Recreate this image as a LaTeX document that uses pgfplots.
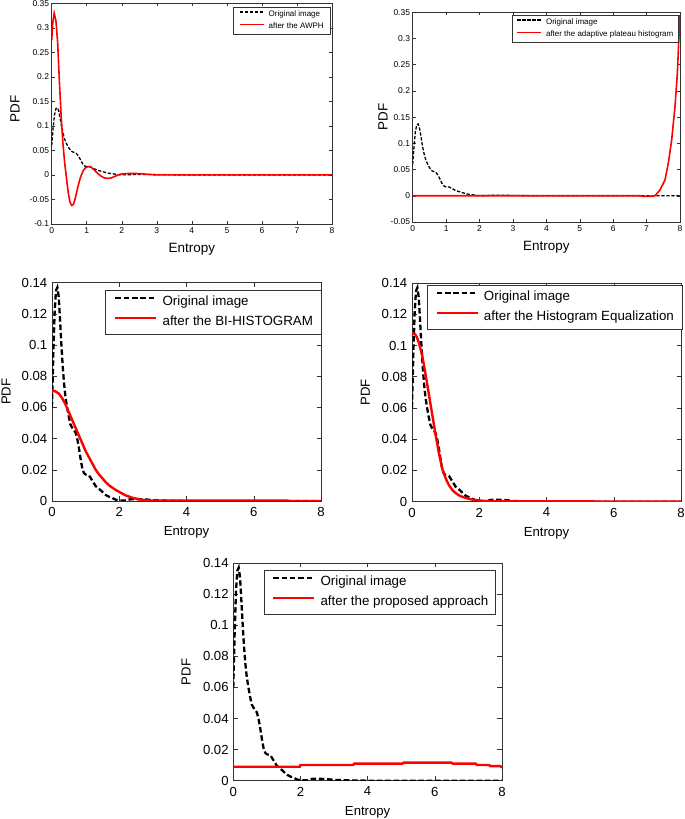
\documentclass[border=0pt]{standalone}
\usepackage{fontspec}
\setmainfont{Liberation Sans}
\usepackage{pgfplots}
\usepackage{pgfplotstable}
\pgfplotsset{compat=1.18}

\pgfplotstableread{
x y
0 0.060
0.04 0.095
0.08 0.122
0.12 0.135
0.16 0.137
0.20 0.131
0.24 0.116
0.28 0.100
0.32 0.086
0.36 0.075
0.40 0.067
0.45 0.060
0.50 0.054
0.55 0.049
0.60 0.047
0.65 0.0455
0.70 0.044
0.75 0.040
0.80 0.034
0.85 0.027
0.90 0.021
0.95 0.018
1.00 0.017
1.10 0.0165
1.20 0.013
1.30 0.0095
1.40 0.0078
1.50 0.0058
1.60 0.0038
1.70 0.0027
1.80 0.0018
1.90 0.0008
2.00 0.0003
2.20 0.0003
2.35 0.0012
2.60 0.0012
2.80 0.0010
3.00 0.0005
3.50 0.0002
4.00 0
8.00 0
}\orig

\pgfplotstableread{
x y
0 0.275
0.03 0.31
0.07 0.33
0.12 0.315
0.17 0.27
0.22 0.19
0.27 0.12
0.32 0.065
0.37 0.025
0.42 -0.005
0.47 -0.035
0.52 -0.055
0.57 -0.062
0.62 -0.060
0.67 -0.048
0.72 -0.033
0.77 -0.018
0.82 -0.005
0.87 0.004
0.92 0.011
0.97 0.015
1.05 0.017
1.12 0.016
1.20 0.011
1.30 0.004
1.40 -0.002
1.50 -0.006
1.60 -0.007
1.70 -0.006
1.80 -0.003
1.90 0.0
2.00 0.002
2.20 0.003
2.40 0.003
2.60 0.002
2.80 0.001
3.00 0
8.00 0
}\awph

\pgfplotstableread{
x y
0 0
6.80 0
6.90 -0.001
7.10 -0.001
7.25 0.0
7.40 0.011
7.55 0.030
7.65 0.062
7.75 0.106
7.85 0.170
7.92 0.233
7.98 0.320
8.00 0.345
}\plateau

\pgfplotstableread{
x y
0 0.0705
0.1 0.0703
0.2 0.069
0.3 0.066
0.4 0.062
0.5 0.057
0.6 0.052
0.7 0.047
0.8 0.042
0.9 0.037
1.0 0.032
1.1 0.028
1.2 0.024
1.3 0.020
1.4 0.017
1.5 0.0145
1.6 0.012
1.7 0.010
1.8 0.0085
1.9 0.007
2.0 0.0058
2.2 0.0035
2.4 0.002
2.6 0.001
2.8 0.0004
3.0 0.0002
7.0 0.0002
7.05 0
8.0 0
}\bihist

\pgfplotstableread{
x y
0 0.108
0.1 0.107
0.15 0.105
0.2 0.102
0.3 0.094
0.4 0.082
0.5 0.069
0.6 0.056
0.7 0.043
0.8 0.031
0.9 0.021
1.0 0.015
1.1 0.0105
1.2 0.0075
1.3 0.0055
1.4 0.0040
1.5 0.0031
1.6 0.0024
1.7 0.0018
1.8 0.0013
2.0 0.0008
2.2 0.0004
2.5 0.0003
5.4 0.0003
5.45 0
8.0 0
}\histeq

\pgfplotstableread{
x y
0 0.0090
1.98 0.0090
2.00 0.0101
3.57 0.0101
3.60 0.0110
5.04 0.0110
5.07 0.0116
6.50 0.0116
6.53 0.0110
7.22 0.0110
7.25 0.0101
7.62 0.0101
7.65 0.0094
7.95 0.0094
8.00 0.0084
}\proposed

\pgfplotsset{
  base/.style={
    scale only axis, xmin=0, xmax=8,
    axis line style={black!80, line width=0.6bp},
    every tick/.append style={black!80, line width=0.5bp},
    tick align=inside,
    /pgf/number format/assume math mode=true,
    legend cell align=left,
    xlabel={Entropy}, ylabel={PDF},
    xlabel style={anchor=center},
    ylabel style={anchor=center},
  },
  small/.style={base,
    major tick length=3bp,
    tick label style={font=\fontsize{8.5}{9.5}\selectfont},
    xticklabel style={inner sep=0pt, yshift=-3bp},
    yticklabel style={inner sep=0pt, xshift=-2.5bp},
    label style={font=\fontsize{13.5}{15}\selectfont},
    xtick={0,1,2,3,4,5,6,7,8},
    legend style={font=\fontsize{8}{9}\selectfont, draw=black!80, line width=0.5bp,
      at={(1,1)}, anchor=north east, inner xsep=4bp, inner ysep=2.75bp,
      row sep=3.5bp, column sep=3.5bp,
      nodes={inner sep=0.5bp, text height=6bp, text depth=2bp}},
    legend image code/.code={\draw[##1] (0bp,2.6bp) -- (24bp,2.6bp);},
    origstyle/.style={black, line width=1.3bp, dash pattern=on 3.3bp off 1.7bp},
    redstyle/.style={red, line width=1.6bp},
  },
  big/.style={base,
    major tick length=4.5bp,
    tick label style={font=\fontsize{13.2}{15}\selectfont},
    xticklabel style={inner sep=0pt, yshift=-6bp},
    yticklabel style={inner sep=0pt, xshift=-4.5bp},
    label style={font=\fontsize{13.2}{15}\selectfont},
    xtick={0,2,4,6,8},
    ymin=0, ymax=0.14,
    ytick={0,0.02,0.04,0.06,0.08,0.1,0.12,0.14},
    yticklabels={0,0.02,0.04,0.06,0.08,0.1,0.12,0.14},
    xticklabels={0,2,4,6,8},
    xlabel style={at={(axis description cs:0.5,-0.145)}},
    ylabel style={at={(axis description cs:-0.173,0.5)}},
    legend style={font=\fontsize{13.4}{15}\selectfont, draw=black!80, line width=0.5bp,
      at={(1,1)}, anchor=north east, inner xsep=8.5bp, inner ysep=5.5bp,
      row sep=7bp, column sep=5bp,
      nodes={inner sep=0pt, text height=10bp, text depth=3bp}},
    legend image code/.code={\draw[##1] (0bp,4.3bp) -- (41bp,4.3bp);},
    origstyle/.style={black, line width=2.3bp, dash pattern=on 5.5bp off 2.8bp},
    redstyle/.style={red, line width=2.4bp},
  },
}

\begin{document}
\begin{tikzpicture}

% Panel 1: AWPH
\begin{axis}[small,
  at={(51.7bp,595bp)}, anchor=south west,
  width=280.3bp, height=220.7bp,
  ymin=-0.1, ymax=0.35,
  ytick={-0.1,-0.05,0,0.05,0.1,0.15,0.2,0.25,0.3,0.35},
  yticklabels={-0.1,-0.05,0,0.05,0.1,0.15,0.2,0.25,0.3,0.35},
  xticklabels={0,1,2,3,4,5,6,7,8},
  xlabel style={at={(axis description cs:0.5,-0.115)}},
  ylabel style={at={(axis description cs:-0.131,0.52)}},
  legend style={xshift=-2bp, yshift=-3.7bp, inner xsep=5.5bp},
]
\addplot[origstyle] table[x=x,y=y] {\orig};
\addplot[redstyle] table[x=x,y=y] {\awph};
\legend{Original image, after the AWPH}
\end{axis}

% Panel 2: adaptive plateau
\begin{axis}[small,
  at={(412.7bp,597bp)}, anchor=south west,
  width=267.3bp, height=209.7bp,
  ymin=-0.05, ymax=0.35,
  ytick={-0.05,0,0.05,0.1,0.15,0.2,0.25,0.3,0.35},
  yticklabels={-0.05,0,0.05,0.1,0.15,0.2,0.25,0.3,0.35},
  xticklabels={0,1,2,3,4,5,6,7,8},
  xlabel style={at={(axis description cs:0.5,-0.121)}},
  ylabel style={at={(axis description cs:-0.111,0.5)}},
  legend style={xshift=-2bp, yshift=-2.7bp},
]
\addplot[origstyle] table[x=x,y=y] {\orig};
\addplot[redstyle] table[x=x,y=y] {\plateau};
\legend{Original image, after the adaptive plateau histogram}
\end{axis}

% Panel 3: BI-HISTOGRAM
\begin{axis}[big,
  at={(52bp,318bp)}, anchor=south west,
  width=269bp, height=218.3bp,
  ylabel style={at={(axis description cs:-0.171,0.5)}},
  legend style={xshift=0.7bp, yshift=-7.3bp},
]
\addplot[origstyle] table[x=x,y=y] {\orig};
\addplot[redstyle] table[x=x,y=y] {\bihist};
\legend{Original image, after the BI-HISTOGRAM}
\end{axis}

% Panel 4: Histogram Equalization
\begin{axis}[big,
  at={(412bp,317.3bp)}, anchor=south west,
  width=269bp, height=218.7bp,
  legend style={xshift=1.7bp, yshift=-2bp},
]
\addplot[origstyle] table[x=x,y=y] {\orig};
\addplot[redstyle] table[x=x,y=y] {\histeq};
\legend{Original image, after the Histogram Equalization}
\end{axis}

% Panel 5: proposed
\begin{axis}[big,
  at={(233.3bp,38.3bp)}, anchor=south west,
  width=268.7bp, height=217.7bp,
  xlabel style={at={(axis description cs:0.5,-0.144)}},
  ylabel style={at={(axis description cs:-0.176,0.5)}},
  legend style={xshift=-6bp, yshift=-7bp, inner xsep=7.5bp},
]
\addplot[origstyle] table[x=x,y=y] {\orig};
\addplot[redstyle] table[x=x,y=y] {\proposed};
\legend{Original image, after the proposed approach}
\end{axis}

\pgfresetboundingbox
\useasboundingbox (0bp,0bp) rectangle (685bp,819bp);
\end{tikzpicture}
\end{document}
